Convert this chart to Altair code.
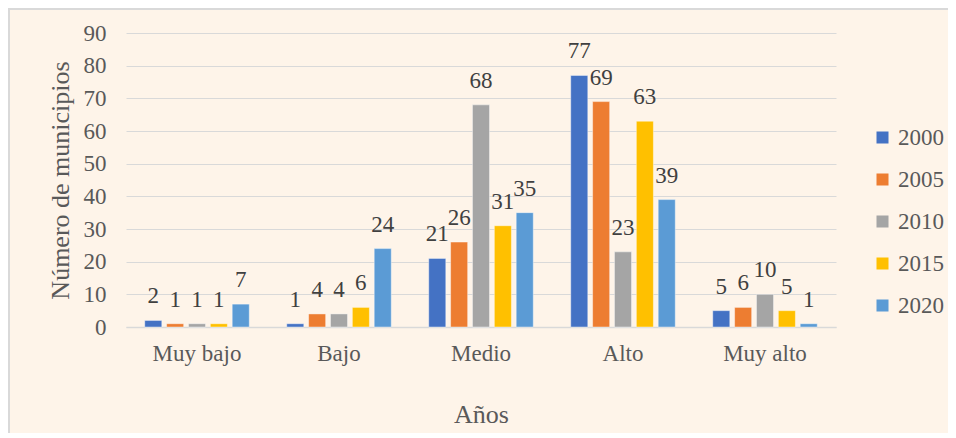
import altair as alt
import pandas as pd

categories = ["Muy bajo", "Bajo", "Medio", "Alto", "Muy alto"]
years = ["2000", "2005", "2010", "2015", "2020"]
values = {
    "2000": [2, 1, 21, 77, 5],
    "2005": [1, 4, 26, 69, 6],
    "2010": [1, 4, 68, 23, 10],
    "2015": [1, 6, 31, 63, 5],
    "2020": [7, 24, 35, 39, 1],
}
colors = ["#4472C4", "#ED7D31", "#A5A5A5", "#FFC000", "#5B9BD5"]
y_ticks = [0, 10, 20, 30, 40, 50, 60, 70, 80, 90]

rows = []
for y in years:
    for c, v in zip(categories, values[y]):
        rows.append({"cat": c, "year": y, "value": v})
df = pd.DataFrame(rows)

FONT = "Times New Roman, Liberation Serif, serif"

x = alt.X("cat:N", sort=categories, title="Años",
          scale=alt.Scale(paddingInner=0.23, paddingOuter=0.115),
          axis=alt.Axis(labelAngle=0, labelFontSize=23, titleFontSize=26,
                        labelPadding=15, titlePadding=36, ticks=False,
                        domainColor="#D9D9D9", domainWidth=1.5,
                        labelColor="#595959", titleColor="#595959",
                        labelFont=FONT, titleFont=FONT, titleFontWeight="normal"))
xo = alt.XOffset("year:N", sort=years,
                 scale=alt.Scale(paddingInner=0.22, paddingOuter=0.11))
yenc = alt.Y("value:Q", title="Número de municipios",
             scale=alt.Scale(domain=[0, 90], nice=False),
             axis=alt.Axis(values=y_ticks, labelFontSize=23,
                           titleFontSize=26, labelPadding=20, titlePadding=10,
                           ticks=False, domain=False, gridColor="#D9D9D9",
                           gridWidth=1.2, labelColor="#595959",
                           titleColor="#595959", labelFont=FONT, titleFont=FONT,
                           titleFontWeight="normal", labelOverlap=False))

base = alt.Chart(df).encode(x=x, xOffset=xo, y=yenc)

bars = base.mark_bar(stroke="#FFFFFF", strokeWidth=0.6, strokeOpacity=0.7).encode(
    color=alt.Color("year:N", sort=years, title=None,
                    scale=alt.Scale(domain=years, range=colors),
                    legend=alt.Legend(orient="none", legendX=745, legendY=93,
                                      symbolType="square", symbolSize=144,
                                      symbolStrokeWidth=0, labelFontSize=23,
                                      labelFont=FONT, labelColor="#595959",
                                      rowPadding=18, labelOffset=4)),
)

labels = base.mark_text(font=FONT, fontSize=23, color="#404040",
                        baseline="alphabetic", dy=-17).encode(
    text=alt.Text("value:Q"),
)

frame_src = pd.DataFrame({"f": [0]})
frame_top = alt.Chart(frame_src).mark_rule(color="#D9D9D9", strokeWidth=2).encode(
    x=alt.value(-118), x2=alt.value(830), y=alt.value(-24))
frame_left = alt.Chart(frame_src).mark_rule(color="#D9D9D9", strokeWidth=2).encode(
    x=alt.value(-117), y=alt.value(-25), y2=alt.value(420))

chart = alt.layer(bars, labels, frame_top, frame_left).properties(
    width=710, height=294,
    background="#FEF4E9",
    padding={"left": 118, "top": 25, "right": 112, "bottom": 106},
    autosize=alt.AutoSizeParams(type="none"),
).configure_view(stroke=None)

chart.save("out.html", embed_options={"renderer": "svg", "actions": False})
